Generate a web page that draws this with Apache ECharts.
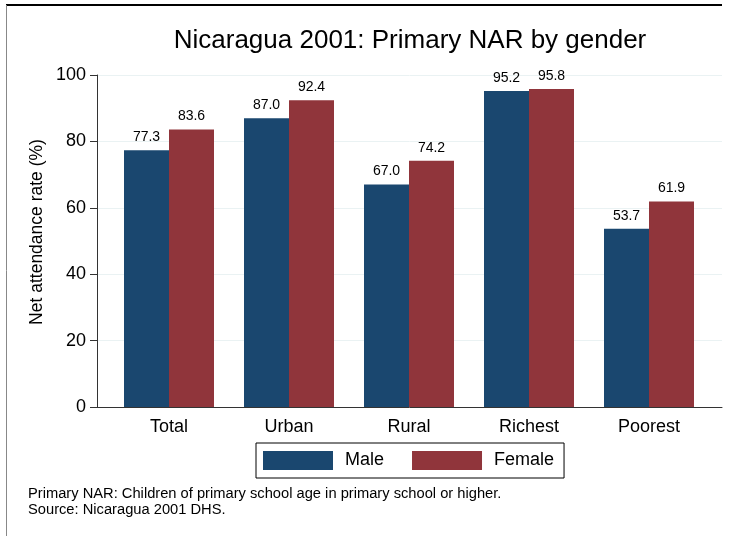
<!DOCTYPE html>
<html>
<head>
<meta charset="utf-8">
<script src="https://cdn.jsdelivr.net/npm/echarts@6/dist/echarts.min.js"></script>
<style>
html,body{margin:0;padding:0;background:#fff;}
#chart{width:730px;height:536px;}
</style>
</head>
<body>
<div id="chart"></div>
<script>
const categories = ['Total', 'Urban', 'Rural', 'Richest', 'Poorest'];
const maleValues = [77.3, 87.0, 67.0, 95.2, 53.7];
const femaleValues = [83.6, 92.4, 74.2, 95.8, 61.9];
const seriesNames = ['Male', 'Female'];
const yTicks = [0, 20, 40, 60, 80, 100];
const titleText = 'Nicaragua 2001: Primary NAR by gender';
const yAxisTitle = 'Net attendance rate (%)';
const noteLines = ['Primary NAR: Children of primary school age in primary school or higher.', 'Source: Nicaragua 2001 DHS.'];

const FONT = '"Liberation Sans", Arial, Helvetica, sans-serif';
const chart = echarts.init(document.getElementById('chart'), null, {renderer: 'canvas'});

const labelCfg = {
  show: true, position: 'top', distance: 6,
  fontSize: 14, fontFamily: FONT, color: '#000',
  formatter: p => p.value.toFixed(1)
};

chart.setOption({
  animation: false,
  backgroundColor: '#fff',
  grid: [
    {left: 97, right: 8, top: 75, bottom: 129},
    {left: 109, right: 21, top: 75, bottom: 129}
  ],
  xAxis: [
    {gridIndex: 0, type: 'value', min: 0, max: 1,
     axisLine: {show: true, lineStyle: {color: '#333', width: 1}},
     axisTick: {show: false}, axisLabel: {show: false}, splitLine: {show: false}},
    {gridIndex: 1, type: 'category', data: categories,
     axisLine: {show: false}, axisTick: {show: false},
     axisLabel: {fontSize: 18, fontFamily: FONT, color: '#000', margin: 11}}
  ],
  yAxis: [
    {gridIndex: 0, type: 'value', min: yTicks[0], max: yTicks[yTicks.length - 1], interval: 20,
     axisLine: {show: true, lineStyle: {color: '#333', width: 1}},
     axisTick: {show: true, length: 7, lineStyle: {color: '#333'}},
     axisLabel: {fontSize: 18, fontFamily: FONT, color: '#000', margin: 11},
     splitLine: {show: true, lineStyle: {color: '#eaf2f3', width: 1}}},
    {gridIndex: 1, type: 'value', min: yTicks[0], max: yTicks[yTicks.length - 1], show: false}
  ],
  legend: {
    data: seriesNames,
    left: 256, top: 443,
    orient: 'horizontal',
    itemWidth: 70, itemHeight: 19, itemGap: 28,
    padding: [8, 10, 8, 7],
    borderColor: '#000', borderWidth: 1,
    icon: 'rect',
    textStyle: {fontSize: 18, fontFamily: FONT, color: '#000', padding: [0, 0, 0, 7]}
  },
  series: [
    {name: seriesNames[0], type: 'bar', xAxisIndex: 1, yAxisIndex: 1,
     data: maleValues, barWidth: 45, barGap: '0%',
     itemStyle: {color: '#1a476f'}, label: labelCfg},
    {name: seriesNames[1], type: 'bar', xAxisIndex: 1, yAxisIndex: 1,
     data: femaleValues, barWidth: 45, barGap: '0%',
     itemStyle: {color: '#90353b'}, label: labelCfg}
  ],
  graphic: [
    {type: 'line', shape: {x1: 6, y1: 5, x2: 722, y2: 5}, style: {stroke: '#000', lineWidth: 2}, silent: true},
    {type: 'line', shape: {x1: 6.5, y1: 5, x2: 6.5, y2: 536}, style: {stroke: '#888', lineWidth: 1}, silent: true},
    {type: 'text', x: 410, y: 41, style: {text: titleText, fontSize: 26, fontFamily: FONT, fill: '#000', textAlign: 'center', textVerticalAlign: 'middle'}, silent: true},
    {type: 'text', x: 37, y: 232, rotation: Math.PI / 2, style: {text: yAxisTitle, fontSize: 17.5, fontFamily: FONT, fill: '#000', textAlign: 'center', textVerticalAlign: 'middle'}, silent: true},
    {type: 'text', x: 28, y: 486, style: {text: noteLines.join('\n'), fontSize: 14.7, lineHeight: 16, fontFamily: FONT, fill: '#000', textAlign: 'left', textVerticalAlign: 'top'}, silent: true}
  ]
});
</script>
</body>
</html>
